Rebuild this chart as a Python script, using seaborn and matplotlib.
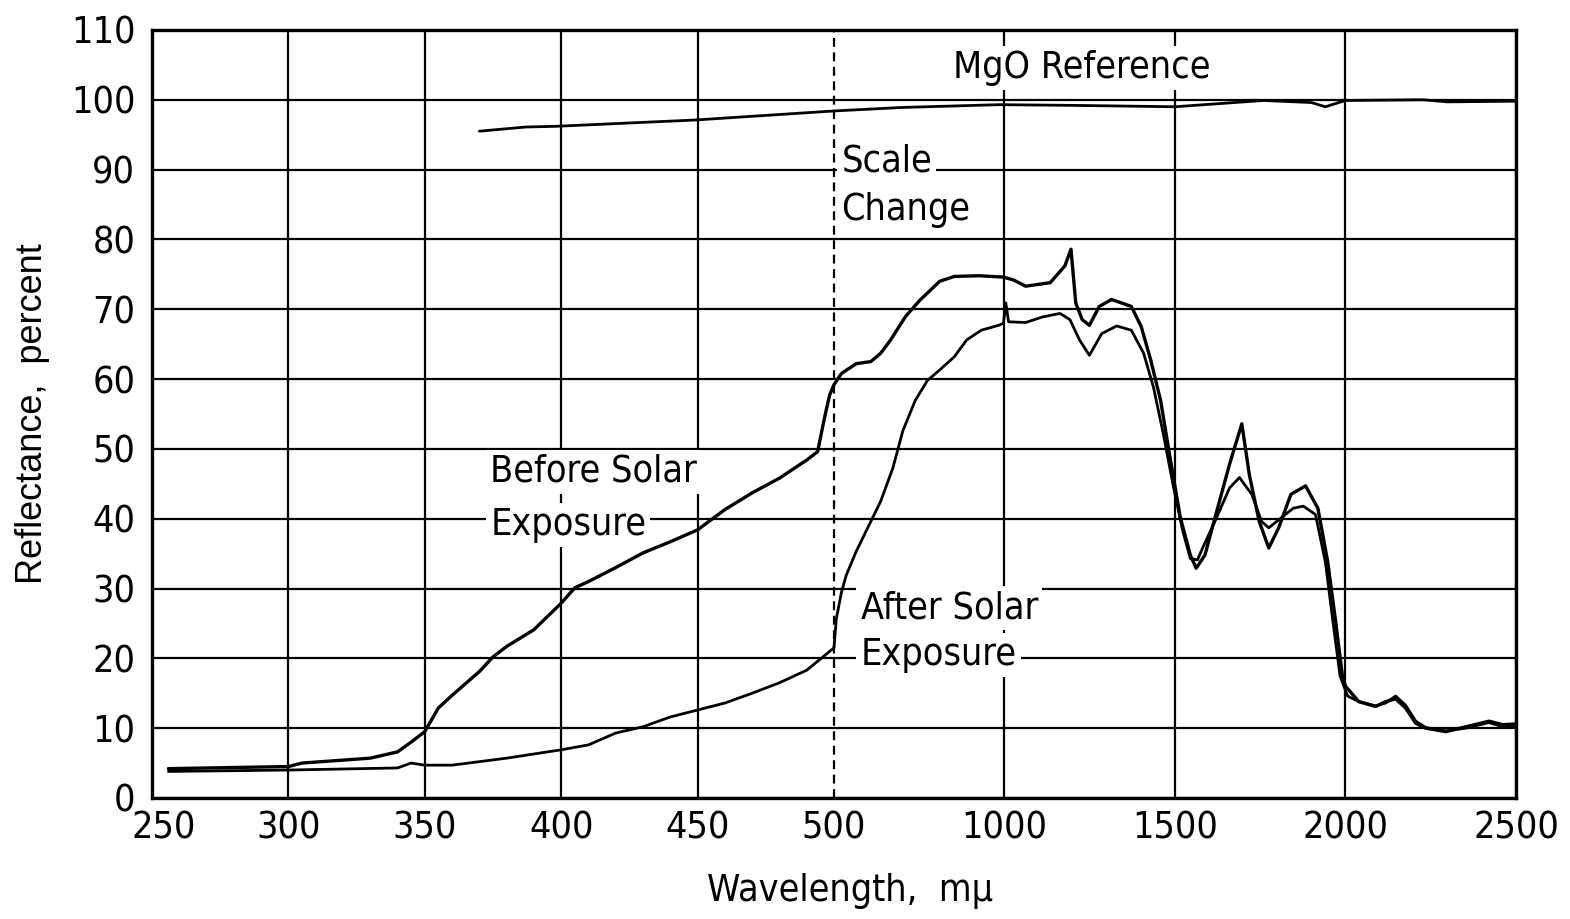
import numpy as np
import pandas as pd
import matplotlib
matplotlib.use("Agg")
import matplotlib.pyplot as plt
import matplotlib.transforms as mtransforms
from matplotlib import font_manager
import seaborn as sns

# ---------------- data ----------------
before_wl = [256, 300, 305, 330, 340, 345, 350, 355, 360, 370, 375, 380, 390, 400, 405,
             410, 420, 430, 440, 450, 460, 470, 480, 490, 494, 496.5, 498.4, 500,
             522, 565, 608, 637, 666, 709, 752, 810, 853, 925, 997, 1026, 1062, 1134,
             1177, 1195, 1209, 1228, 1249, 1278, 1314, 1372, 1401, 1429, 1458, 1487,
             1516, 1545, 1562, 1588, 1617, 1660, 1696, 1718, 1747, 1775, 1804, 1840,
             1883, 1919, 1948, 1970, 1991, 2000, 2039, 2088, 2118, 2147, 2176, 2206,
             2235, 2294, 2353, 2421, 2461, 2500]
before_r = [4.2, 4.5, 5.0, 5.7, 6.6, 8.0, 9.5, 12.9, 14.7, 18.1, 20.2, 21.7, 24.1, 27.9, 30.1,
            31.0, 33.0, 35.1, 36.7, 38.4, 41.3, 43.7, 45.8, 48.4, 49.6, 54.4, 57.7, 59.2,
            60.8, 62.2, 62.5, 63.7, 65.6, 68.9, 71.3, 74.0, 74.7, 74.8, 74.6, 74.2, 73.3, 73.8,
            76.2, 78.6, 70.9, 68.5, 67.7, 70.4, 71.4, 70.4, 67.5, 62.7, 56.9, 48.3,
            40.1, 34.8, 32.9, 34.8, 40.1, 47.8, 53.6, 46.3, 39.6, 35.8, 38.7, 43.5,
            44.7, 41.5, 33.8, 25.7, 17.5, 16.0, 13.8, 13.1, 13.8, 14.2, 12.9, 10.7,
            10.0, 9.5, 10.2, 11.0, 10.5, 10.6]

after_wl = [256, 300, 340, 345, 350, 360, 380, 400, 410, 420, 430, 440, 450, 460, 470,
            480, 490, 500, 507, 522, 536, 565, 608, 637, 673, 702, 738, 774, 810, 853,
            889, 932, 983, 997, 1004, 1012, 1062, 1112, 1163, 1192, 1220, 1249, 1285,
            1329, 1372, 1408, 1437, 1466, 1494, 1523, 1545, 1566, 1581, 1617, 1660,
            1689, 1725, 1754, 1775, 1811, 1847, 1876, 1912, 1941, 1962, 1984, 2006,
            2039, 2088, 2118, 2147, 2176, 2206, 2235, 2294, 2353, 2421, 2461, 2500]
after_r = [3.8, 4.0, 4.3, 5.0, 4.7, 4.7, 5.7, 6.9, 7.6, 9.3, 10.2, 11.6, 12.6, 13.6, 15.0,
           16.5, 18.3, 21.5, 25.7, 29.5, 31.9, 35.3, 39.6, 42.5, 47.3, 52.6, 56.9, 59.8, 61.3, 63.2,
           65.6, 67.0, 67.7, 68.0, 70.9, 68.2, 68.1, 68.9, 69.4, 68.5, 65.6, 63.4, 66.5,
           67.6, 67.0, 63.7, 58.8, 52.1, 44.9, 38.2, 34.3, 34.1, 35.8, 39.6, 44.4,
           45.9, 43.5, 39.6, 38.7, 40.1, 41.5, 41.8, 40.6, 33.8, 25.7, 17.5, 14.6,
           13.8, 13.2, 13.6, 14.6, 13.3, 11.0, 10.1, 9.6, 10.0, 10.8, 10.2, 10.4]

mgo_wl = [370, 387, 398, 449, 500, 700, 985, 1200, 1500, 1760, 1900, 1941, 2000, 2227, 2300, 2500]
mgo_r = [95.5, 96.1, 96.2, 97.1, 98.4, 98.9, 99.3, 99.2, 99.0, 99.9, 99.6, 99.0, 99.9, 100.0, 99.7, 99.8]

x_ticks = [250, 300, 350, 400, 450, 500, 1000, 1500, 2000, 2500]
y_ticks = list(range(0, 111, 10))

# ---------------- fonts ----------------
sns.set_theme(style="white")
names = {f.name for f in font_manager.fontManager.ttflist}
cond_dejavu = any(f.name == 'DejaVu Sans' and 'condensed' in str(f.stretch)
                  for f in font_manager.fontManager.ttflist)
stretch = 'normal'
if 'Liberation Sans Narrow' in names:
    main_font, fs_tick, fs_text = 'Liberation Sans Narrow', 31, 31
elif cond_dejavu:
    main_font, fs_tick, fs_text = 'DejaVu Sans', 27, 27
    stretch = 'condensed'
else:
    main_font, fs_tick, fs_text = 'Liberation Sans', 27, 27
plt.rcParams['font.family'] = [main_font, 'DejaVu Sans']
plt.rcParams['font.stretch'] = stretch

fig = plt.figure(figsize=(15.7, 9.19), dpi=100)
ax = fig.add_axes([0.0968, 0.1317, 0.8688, 0.8357])


def fwd(x):
    x = np.asarray(x, dtype=float)
    return np.where(x <= 500, (x - 250) / 50.0, 5 + (x - 500) / 400.0)


def inv(p):
    p = np.asarray(p, dtype=float)
    return np.where(p <= 5, 250 + 50.0 * p, 500 + 400.0 * (p - 5))


ax.set_xscale('function', functions=(fwd, inv))

df = pd.concat([
    pd.DataFrame({'wl': before_wl, 'r': before_r, 'curve': 'Before'}),
    pd.DataFrame({'wl': after_wl, 'r': after_r, 'curve': 'After'}),
    pd.DataFrame({'wl': mgo_wl, 'r': mgo_r, 'curve': 'MgO'}),
])

for name, lw in [('Before', 2.4), ('After', 2.0), ('MgO', 2.0)]:
    sns.lineplot(data=df[df.curve == name], x='wl', y='r', ax=ax, color='black',
                 linewidth=lw, sort=False, estimator=None, zorder=3)

ax.set_xlim(250, 2500)
ax.set_ylim(0, 110)
ax.set_xticks(x_ticks)
ax.set_xticklabels([str(t) for t in x_ticks])
ax.set_yticks(y_ticks)
ax.set_yticklabels([str(t) for t in y_ticks])
ax.tick_params(axis='both', length=0, labelsize=fs_tick, colors='black')
ax.tick_params(axis='x', pad=9)
ax.tick_params(axis='y', pad=12)

# shift first x label a bit right (as in the reference)
first = ax.get_xticklabels()[0]
first.set_transform(first.get_transform() +
                    mtransforms.ScaledTranslation(12 / 100, 0, fig.dpi_scale_trans))

ax.grid(True, color='black', linewidth=1.6, zorder=1)
for tick, gl in zip(x_ticks, ax.xaxis.get_gridlines()):
    if tick == 500:
        gl.set_linestyle((0, (4, 2.5)))
        gl.set_linewidth(1.6)

for sp in ax.spines.values():
    sp.set_color('black')
    sp.set_linewidth(2.4)

ax.set_xlabel('Wavelength,  mμ', fontsize=fs_text, color='black')
ax.xaxis.set_label_coords(0.512, -0.098)
ax.xaxis.label.set_va('top')
ax.set_ylabel('Reflectance,  percent', fontsize=26, color='black',
              family=['Liberation Sans', 'DejaVu Sans'], stretch='normal')
ax.yaxis.set_label_coords(-0.075, 0.5)

box = dict(facecolor='white', edgecolor='none', pad=3)
tk = dict(fontsize=fs_text, color='black', zorder=2.5, bbox=box)
ax.text(1226, 104.6, 'MgO Reference', ha='center', va='center', **tk)
ax.text(522, 91.1, 'Scale', ha='left', va='center', **tk)
ax.text(522, 84.2, 'Change', ha='left', va='center', **tk)
ax.text(374, 46.7, 'Before Solar', ha='left', va='center', **tk)
ax.text(374, 39.1, 'Exposure', ha='left', va='center', **tk)
ax.text(578, 27.2, 'After Solar', ha='left', va='center', **tk)
ax.text(578, 20.5, 'Exposure', ha='left', va='center', **tk)

fig.savefig('out.png', dpi=100, facecolor='white')
